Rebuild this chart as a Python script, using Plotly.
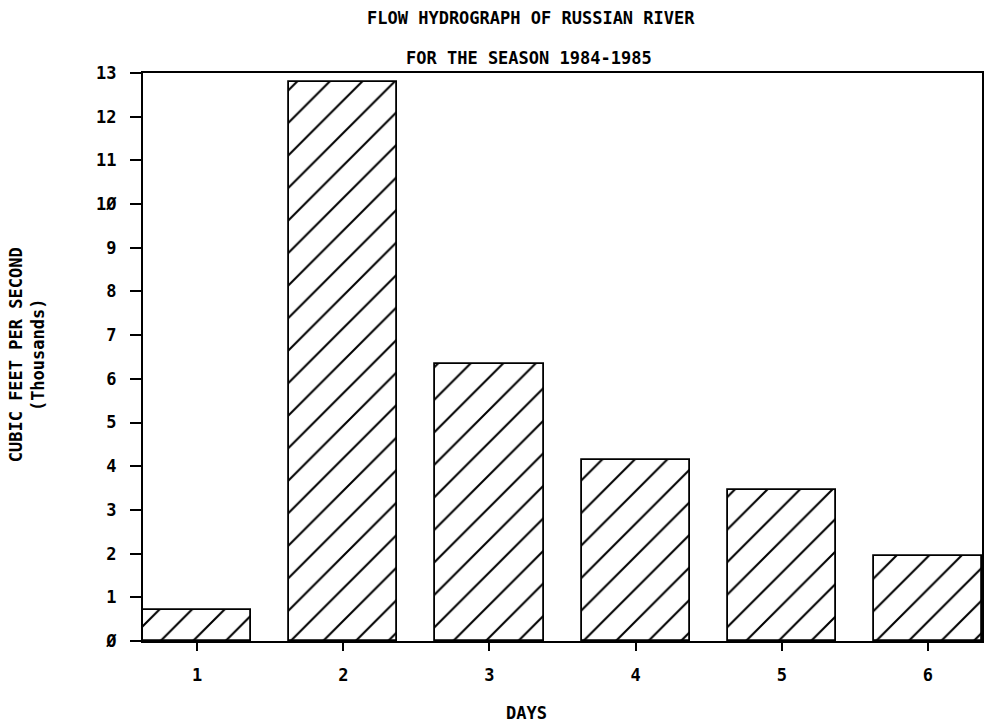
import plotly.graph_objects as go

# Daily flow, thousands of cubic feet per second
days = [1, 2, 3, 4, 5, 6]
day_labels = ["1", "2", "3", "4", "5", "6"]
flow_kcfs = [0.7, 12.8, 6.35, 4.15, 3.45, 1.95]

# Y tick labels use the plotter's slashed zero
y_tickvals = list(range(0, 14))
y_ticktext = ["Ø", "1", "2", "3", "4", "5", "6", "7", "8", "9", "1Ø", "11", "12", "13"]

title_line1 = "FLOW HYDROGRAPH OF RUSSIAN RIVER"
title_line2 = "FOR THE SEASON 1984-1985"
y_title = "CUBIC FEET PER SECOND<br>(Thousands)"
x_title = "DAYS"

FONT = "DejaVu Sans Mono"
W, H = 986, 724
L, R, T, B = 143, 2, 73, 83

fig = go.Figure()
fig.add_trace(go.Bar(
    x=days,
    y=flow_kcfs,
    width=0.74,
    marker=dict(
        color="white",
        line=dict(color="black", width=1.8),
        pattern=dict(shape="/", fgcolor="black", bgcolor="white", fgopacity=1,
                     size=23, solidity=0.09, fillmode="overlay"),
    ),
    showlegend=False,
    hoverinfo="skip",
))

axis_common = dict(
    showline=True, linecolor="black", linewidth=2, mirror=True,
    showgrid=False, zeroline=False,
    ticks="outside", tickcolor="black", tickwidth=1.5,
    tickfont=dict(family=FONT, size=17, color="black", weight="bold"),
)

fig.update_xaxes(range=[0.63, 6.37], tickvals=days, ticktext=day_labels,
                 ticklen=8, ticklabelstandoff=10, **axis_common)
fig.update_yaxes(range=[0, 13], tickvals=y_tickvals, ticktext=y_ticktext,
                 ticklen=11, ticklabelstandoff=10, **axis_common)

plot_w = W - L - R
plot_h = H - T - B

def px_x(x):
    return (x - L) / plot_w

def px_y(y):
    return (H - B - y) / plot_h

text_font = dict(family=FONT, size=17, color="black", weight="bold")
annotations = [
    dict(text=title_line1, x=px_x(532), y=px_y(18)),
    dict(text=title_line2, x=px_x(530), y=px_y(58)),
    dict(text=x_title, x=px_x(527), y=px_y(713)),
    dict(text=y_title, x=px_x(27), y=px_y(355), textangle=-90),
]
for a in annotations:
    a.update(xref="paper", yref="paper", showarrow=False,
             xanchor="center", yanchor="middle", font=text_font)

fig.update_layout(
    width=W, height=H,
    margin=dict(l=L, r=R, t=T, b=B, pad=0),
    paper_bgcolor="white", plot_bgcolor="white",
    annotations=annotations,
    bargap=0,
)

fig.write_html("out.html")
